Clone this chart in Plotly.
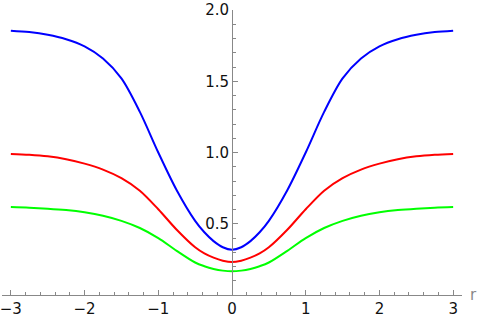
import plotly.graph_objects as go

r_vals = [-3, -2.75, -2.5, -2.25, -2, -1.75, -1.5, -1.25, -1, -0.75, -0.5, -0.375, -0.25, -0.125, 0,
          0.125, 0.25, 0.375, 0.5, 0.75, 1, 1.25, 1.5, 1.75, 2, 2.25, 2.5, 2.75, 3]
blue_vals = [1.855, 1.845, 1.826, 1.795, 1.745, 1.660, 1.520, 1.285, 1.000, 0.735, 0.520, 0.440, 0.378, 0.335, 0.318,
             0.335, 0.378, 0.440, 0.520, 0.735, 1.000, 1.285, 1.520, 1.660, 1.745, 1.795, 1.826, 1.845, 1.855]
red_vals = [0.990, 0.984, 0.973, 0.953, 0.922, 0.880, 0.820, 0.732, 0.602, 0.458, 0.335, 0.292, 0.262, 0.241, 0.231,
            0.241, 0.262, 0.292, 0.335, 0.458, 0.602, 0.732, 0.820, 0.880, 0.922, 0.953, 0.973, 0.984, 0.990]
green_vals = [0.617, 0.613, 0.606, 0.596, 0.580, 0.556, 0.520, 0.470, 0.399, 0.310, 0.228, 0.202, 0.183, 0.171, 0.166,
              0.171, 0.183, 0.202, 0.228, 0.310, 0.399, 0.470, 0.520, 0.556, 0.580, 0.596, 0.606, 0.613, 0.617]
x_ticks = [-3, -2, -1, 0, 1, 2, 3]
y_ticks = [0.5, 1.0, 1.5, 2.0]

fig = go.Figure()
for vals, col in [(blue_vals, "#0000FF"), (red_vals, "#FF0000"), (green_vals, "#00FF00")]:
    fig.add_trace(go.Scatter(x=r_vals, y=vals, mode="lines",
                             line=dict(color=col, width=2, shape="spline", smoothing=0.9),
                             showlegend=False, hoverinfo="skip", cliponaxis=False))

axis_gray = "#888888"
fig.update_layout(
    width=481, height=318,
    margin=dict(l=2, r=19, t=10, b=23, autoexpand=False),
    plot_bgcolor="white", paper_bgcolor="white",
    font=dict(family="DejaVu Sans", size=15, color="#111111"),
    xaxis=dict(range=[-3.12, 3.12], tickvals=x_ticks, showgrid=False, zeroline=False,
               showline=True, linecolor=axis_gray, linewidth=1, automargin=False,
               ticklabeloverflow="allow",
               ticks="inside", ticklen=5, tickcolor=axis_gray, tickwidth=1,
               minor=dict(ticks="inside", ticklen=3, dtick=0.2, tick0=0, tickcolor=axis_gray, showgrid=False),
               fixedrange=True),
    yaxis=dict(range=[0, 2.0], tickvals=y_ticks, tickformat=".1f", showgrid=False, zeroline=False,
               showline=True, linecolor=axis_gray, linewidth=1, automargin=False,
               ticklabeloverflow="allow",
               anchor="free", position=0.5, side="left",
               ticks="inside", ticklen=5, tickcolor=axis_gray, tickwidth=1,
               minor=dict(ticks="inside", ticklen=3, dtick=0.1, tick0=0, tickcolor=axis_gray, showgrid=False),
               fixedrange=True),
    annotations=[dict(text="r", x=1, xref="paper", xanchor="left", xshift=6,
                      y=0, yref="y", yanchor="middle", showarrow=False,
                      font=dict(size=15, color="#888888"))],
)

fig.write_html("out.html", config={"displayModeBar": False},
               post_script="document.body.style.margin='0';document.body.style.padding='0';")
